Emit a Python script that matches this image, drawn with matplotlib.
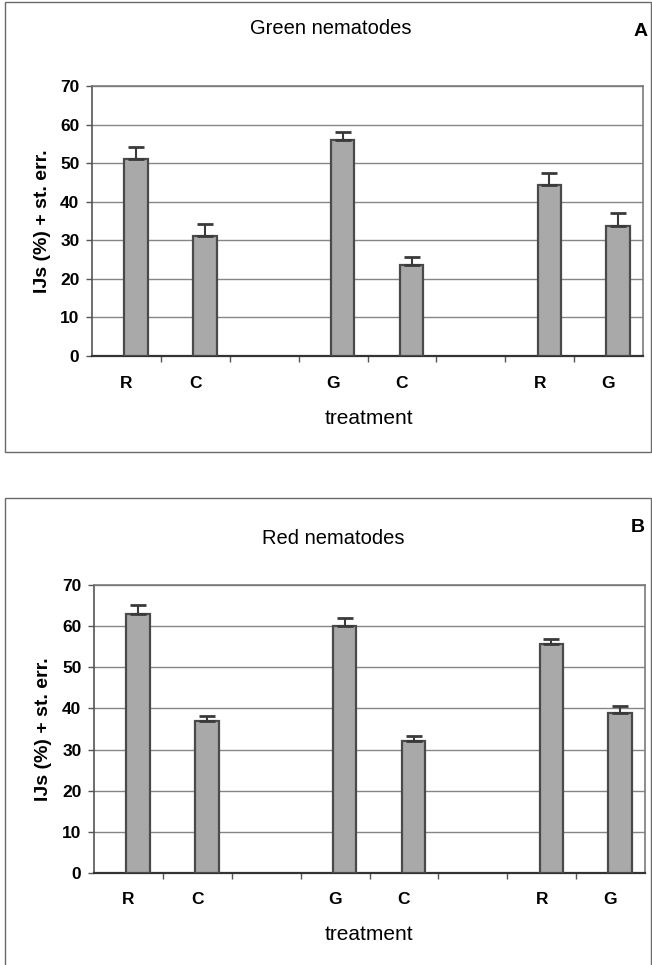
import matplotlib
matplotlib.use("Agg")
import matplotlib.pyplot as plt
import numpy as np
from matplotlib.patches import Rectangle

plt.rcParams['font.family'] = ['Liberation Sans', 'DejaVu Sans']

categories = ["R", "C", "", "G", "C", "", "R", "G"]
green_vals = [51.2, 31.1, np.nan, 56.1, 23.6, np.nan, 44.3, 33.8]
green_err = [3.0, 3.1, np.nan, 2.0, 2.1, np.nan, 3.2, 3.2]
red_vals = [62.9, 37.0, np.nan, 60.0, 32.1, np.nan, 55.6, 38.8]
red_err = [2.3, 1.1, np.nan, 1.9, 1.3, np.nan, 1.2, 1.8]
yticks = [0, 10, 20, 30, 40, 50, 60, 70]

W, H = 652, 965
fig = plt.figure(figsize=(W / 100, H / 100), dpi=100)


def px_axes(left, top, right, bottom):
    return fig.add_axes([left / W, 1 - bottom / H, (right - left) / W, (bottom - top) / H])


def draw_panel(ax, vals, errs, title, letter, title_xy, letter_xy, tick_y, xlabel_y, ylabel_x, frame):
    x = np.arange(len(categories))
    v = np.array(vals, dtype=float)
    e = np.array(errs, dtype=float)
    mask = ~np.isnan(v)
    xb = x[mask] + 0.14
    ax.set_axisbelow(True)
    ax.bar(xb, v[mask], width=0.34, color="#a9a9a9", edgecolor="#4a4a4a", linewidth=1.6, zorder=3)
    ax.errorbar(xb, v[mask], yerr=[np.zeros(mask.sum()), e[mask]], fmt="none",
                ecolor="#3a3a3a", elinewidth=1.5, capsize=5.5, capthick=2.0, zorder=4)
    ax.set_xlim(-0.5, len(categories) - 0.5)
    ax.set_ylim(0, 70)
    ax.set_yticks(yticks)
    ax.set_yticklabels([str(t) for t in yticks], fontsize=12.5, fontweight="bold")
    ax.yaxis.grid(True, color="#858585", linewidth=1.0)
    ax.tick_params(axis="y", length=4, width=1, color="#555555", pad=5)
    ax.set_xticks(np.arange(0.5, len(categories) - 0.5, 1.0))
    ax.set_xticklabels([])
    ax.tick_params(axis="x", length=4, width=1, color="#555555")
    for s in ["top", "right", "left"]:
        ax.spines[s].set_color("#7a7a7a")
        ax.spines[s].set_linewidth(1.2)
    ax.spines["left"].set_color("#555555")
    ax.spines["bottom"].set_color("#333333")
    ax.spines["bottom"].set_linewidth(1.6)
    for i, c in enumerate(categories):
        if c:
            xd = ax.transData.transform((i, 0))[0]
            fig.text(xd / W, 1 - tick_y / H, c, ha="center", va="center",
                     fontsize=12.5, fontweight="bold")
    fig.text(title_xy[0] / W, 1 - title_xy[1] / H, title, ha="center", va="center", fontsize=14.5)
    fig.text(letter_xy[0] / W, 1 - letter_xy[1] / H, letter, ha="center", va="center",
             fontsize=14, fontweight="bold")
    fig.text(369 / W, 1 - xlabel_y / H, "treatment", ha="center", va="center", fontsize=15)
    ymid = ax.transAxes.transform((0, 0.5))[1]
    fig.text(ylabel_x / W, ymid / H, "IJs (%) + st. err.", ha="center", va="center",
             rotation=90, fontsize=14, fontweight="bold")
    fig.add_artist(Rectangle((5 / W, 1 - frame[1] / H), (W - 6) / W, (frame[1] - frame[0]) / H,
                             transform=fig.transFigure, fill=False, edgecolor="#6a6a6a",
                             linewidth=1.0))


axA = px_axes(92, 86, 643, 356)
draw_panel(axA, green_vals, green_err, "Green nematodes", "A", (331, 29), (641, 31),
           384, 418, 43, (2, 452))

axB = px_axes(94, 585, 645, 873)
draw_panel(axB, red_vals, red_err, "Red nematodes", "B", (333, 538), (638, 527),
           900, 935, 44, (498, 968))

fig.savefig("out.png", dpi=100)
